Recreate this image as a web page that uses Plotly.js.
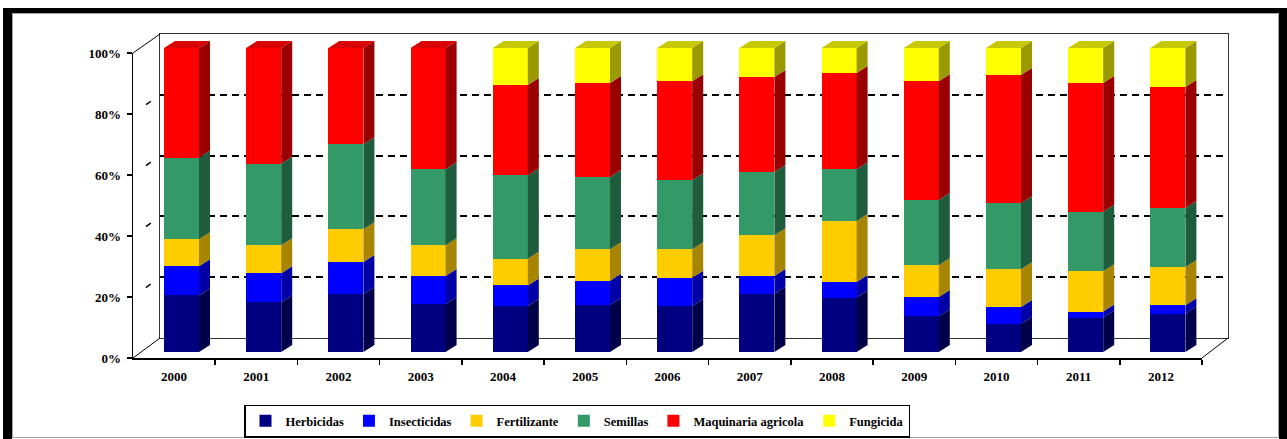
<!DOCTYPE html>
<html>
<head>
<meta charset="utf-8">
<script src="https://cdn.plot.ly/plotly-3.0.1.min.js"></script>
<style>
  html, body { margin: 0; padding: 0; background: #ffffff; }
  #chart { width: 1287px; height: 439px; }
</style>
</head>
<body>
<div id="chart"></div>
<script>
// ---------------- DATA ----------------
const categories = ['2000','2001','2002','2003','2004','2005','2006','2007','2008','2009','2010','2011','2012'];
const herbicidas   = [18.6, 16.4, 19.0, 15.7, 15.1, 15.5, 15.1, 19.2, 17.9, 11.8,  9.3, 11.3, 12.6];
const insecticidas = [ 9.6,  9.5, 10.6,  9.3,  6.8,  7.9,  9.3,  5.8,  5.1,  6.3,  5.5,  2.0,  2.8];
const fertilizante = [ 8.9,  9.2, 10.8, 10.1,  8.8, 10.4,  9.4, 13.4, 20.1, 10.4, 12.4, 13.3, 12.6];
const semillas     = [26.8, 26.8, 27.9, 25.0, 27.4, 23.8, 22.7, 20.8, 17.0, 21.5, 21.7, 19.5, 19.4];
const maquinaria   = [36.1, 38.1, 31.7, 39.9, 29.7, 30.9, 32.6, 31.3, 31.7, 39.1, 42.2, 42.4, 39.8];
const fungicida    = [ 0.0,  0.0,  0.0,  0.0, 12.2, 11.5, 10.9,  9.5,  8.2, 10.9,  8.9, 11.5, 12.8];
const seriesNames  = ['Herbicidas','Insecticidas','Fertilizante','Semillas','Maquinaria agricola','Fungicida'];
const yTickValues  = [0, 20, 40, 60, 80, 100];
const yTickLabels  = ['0%','20%','40%','60%','80%','100%'];

// ---------------- STYLE ----------------
const seriesData  = [herbicidas, insecticidas, fertilizante, semillas, maquinaria, fungicida];
const frontColors = ['#000080','#0000FF','#FFCC00','#339966','#FF0000','#FFFF00'];
const sideColors  = ['#00004A','#0000A6','#A88500','#1E5C3D','#9A0000','#9A9A00'];
const topColors   = ['#00006A','#0000D8','#D9AD00','#2A8056','#D80000','#C8C800'];

const W = 1287, H = 439;
const px = x => x / W;
const py = y => 1 - y / H;
// pixel geometry of the 3-D box
const FR  = {xl: 133, xr: 1202, y0: 358, y100: 53};   // front plane (axes)
const BK  = {xl: 160, xr: 1228, y0: 338, y100: 34};   // back wall
const BAR = {c0: 181.5, step: 82.2, y0: 352, y100: 48, w: 35, dx: 11, dy: 7};

const s2 = (BAR.y0 - BAR.y100) / 100;              // px per % for bars
const bw = BAR.w / BAR.step;                        // bar width in category units
const dxu = BAR.dx / BAR.step, dyu = BAR.dy / s2;   // depth offsets in data units
const x2lo = 138, x2hi = 1248, y2lo = 364, y2hi = 28;

const serif = 'Times New Roman, Liberation Serif, DejaVu Serif, serif';
const fontTicks = {family: serif, size: 13, color: '#000', weight: 'bold'};
const xIdx = categories.map((c, i) => i);

// ---------------- TRACES ----------------
const traces = [];
seriesData.forEach((vals, k) => {
  traces.push({
    type: 'bar', name: seriesNames[k], x: xIdx, y: vals,
    xaxis: 'x2', yaxis: 'y2', width: bw,
    marker: {color: frontColors[k], line: {width: 0}},
    hoverinfo: 'skip'
  });
});

// side faces (derived from the stacked values)
const cum = categories.map(() => 0);
const sideTraces = [];
seriesData.forEach((vals, k) => {
  const xs = [], ys = [];
  vals.forEach((v, i) => {
    if (v <= 0) return;
    const y0 = cum[i], y1 = cum[i] + v, xr = i + bw / 2;
    xs.push(xr, xr + dxu, xr + dxu, xr, xr, null);
    ys.push(y0, y0 + dyu, y1 + dyu, y1, y0, null);
    cum[i] = y1;
  });
  sideTraces.push({
    type: 'scatter', mode: 'lines', x: xs, y: ys, xaxis: 'x2', yaxis: 'y2',
    fill: 'toself', fillcolor: sideColors[k], line: {width: 0, color: sideColors[k]},
    showlegend: false, hoverinfo: 'skip'
  });
});

// top faces: for the topmost non-zero series of each category
const topTraces = [];
seriesData.forEach((vals, k) => {
  const xs = [], ys = [];
  categories.forEach((c, i) => {
    let top = -1;
    seriesData.forEach((sv, j) => { if (sv[i] > 0) top = j; });
    if (top !== k) return;
    let total = 0; seriesData.forEach(sv => total += sv[i]);
    const xl = i - bw / 2, xr = i + bw / 2;
    xs.push(xl, xl + dxu, xr + dxu, xr, xl, null);
    ys.push(total, total + dyu, total + dyu, total, total, null);
  });
  if (xs.length) topTraces.push({
    type: 'scatter', mode: 'lines', x: xs, y: ys, xaxis: 'x2', yaxis: 'y2',
    fill: 'toself', fillcolor: topColors[k], line: {width: 0, color: topColors[k]},
    showlegend: false, hoverinfo: 'skip'
  });
});

// invisible anchors so the back-wall subplot and the front-axes subplot exist
const wallTrace  = {type: 'scatter', x: [0], y: [0], xaxis: 'x',  yaxis: 'y',  mode: 'markers', marker: {opacity: 0}, showlegend: false, hoverinfo: 'skip'};
const frontTrace = {type: 'scatter', x: [0], y: [0], xaxis: 'x3', yaxis: 'y3', mode: 'markers', marker: {opacity: 0}, showlegend: false, hoverinfo: 'skip'};

const data = [wallTrace].concat(traces, sideTraces, topTraces, [frontTrace]);

// ---------------- SHAPES (frame & 3-D box edges) ----------------
const fy = v => FR.y0 - (FR.y0 - FR.y100) * v / 100;
const by = v => BK.y0 - (BK.y0 - BK.y100) * v / 100;
const line = (x0, y0, x1, y1, color, width, dash) => ({
  type: 'line', xref: 'paper', yref: 'paper',
  x0: px(x0), y0: py(y0), x1: px(x1), y1: py(y1),
  line: {color: color, width: width, dash: dash || 'solid'}, layer: 'above'
});
const rect = (x0, y0, x1, y1, fill) => ({
  type: 'rect', xref: 'paper', yref: 'paper',
  x0: px(x0), y0: py(y0), x1: px(x1), y1: py(y1),
  fillcolor: fill, line: {width: 0}, layer: 'above'
});
const shapes = [
  // outer frame
  rect(3, 8, 12, 445, '#000'),
  rect(3, 8, 1287, 13, '#000'),
  rect(1279, 8, 1287, 445, '#000'),
  {type: 'rect', xref: 'paper', yref: 'paper', x0: px(12.5), y0: py(437.5), x1: px(1278.5), y1: py(13.5),
   line: {color: '#a0a0a0', width: 1}, fillcolor: 'rgba(0,0,0,0)', layer: 'above'},
  // box diagonals
  line(FR.xl, fy(100), BK.xl, by(100), '#000', 1),
  line(FR.xl, fy(0), BK.xl, by(0), '#000', 1),
  line(FR.xr, fy(0), BK.xr, by(0), '#000', 1)
];
// left-wall grid dashes
yTickValues.slice(1, -1).forEach(v => {
  shapes.push(line(FR.xl, fy(v), BK.xl, by(v), '#000', 1.5, '0px,16px,6px,40px'));
});

// ---------------- LAYOUT ----------------
const layout = {
  width: W, height: H,
  margin: {l: 0, r: 0, t: 0, b: 0, pad: 0},
  paper_bgcolor: '#ffffff', plot_bgcolor: 'rgba(0,0,0,0)',
  barmode: 'stack', bargap: 0,
  showlegend: true,
  legend: {
    orientation: 'h', x: px(244), y: py(404.5), xanchor: 'left', yanchor: 'top',
    bordercolor: '#000', borderwidth: 1.5, bgcolor: '#fff', traceorder: 'normal',
    itemwidth: 30, font: {family: serif, size: 12.5, color: '#000', weight: 'bold'}
  },
  // back wall
  xaxis: {domain: [px(BK.xl), px(BK.xr)], range: [0, 1], anchor: 'y', showgrid: false, zeroline: false,
          showticklabels: false, ticks: '', showline: true, mirror: true, linecolor: '#333', linewidth: 1,
          automargin: false, fixedrange: true},
  yaxis: {domain: [py(BK.y0), py(BK.y100)], range: [0, 100], anchor: 'x', zeroline: false,
          showgrid: true, gridcolor: '#000', gridwidth: 2, griddash: '7px,5px',
          tickmode: 'array', tickvals: yTickValues.slice(1, -1), showticklabels: false, ticks: '',
          showline: true, mirror: true, linecolor: '#333', linewidth: 1, automargin: false, fixedrange: true},
  // bars
  xaxis2: {domain: [px(x2lo), px(x2hi)],
           range: [(x2lo - BAR.c0) / BAR.step, (x2hi - BAR.c0) / BAR.step],
           anchor: 'y2', visible: false, automargin: false, fixedrange: true},
  yaxis2: {domain: [py(y2lo), py(y2hi)],
           range: [-(y2lo - BAR.y0) / s2, 100 + (BAR.y100 - y2hi) / s2],
           anchor: 'x2', visible: false, automargin: false, fixedrange: true},
  // front axes
  xaxis3: {domain: [px(FR.xl), px(FR.xr)], range: [-0.5, categories.length - 0.5], anchor: 'y3',
           tickmode: 'array', tickvals: xIdx, ticktext: categories, ticks: '',
           minor: {tickmode: 'array', tickvals: xIdx.map(i => i + 0.5), ticks: 'outside', ticklen: 5, tickcolor: '#000', tickwidth: 1.5},
           ticklabelstandoff: 6,
           showline: true, linecolor: '#000', linewidth: 1.5, showgrid: false, zeroline: false,
           tickfont: fontTicks, automargin: false, fixedrange: true},
  yaxis3: {domain: [py(FR.y0), py(FR.y100)], range: [0, 100], anchor: 'x3',
           tickmode: 'array', tickvals: yTickValues, ticktext: yTickLabels,
           ticks: 'outside', ticklen: 5, tickwidth: 1.5, tickcolor: '#000', ticklabelstandoff: 3,
           showline: true, linecolor: '#000', linewidth: 1.5, showgrid: false, zeroline: false,
           tickfont: fontTicks, automargin: false, fixedrange: true},
  shapes: shapes
};

Plotly.newPlot('chart', data, layout, {displayModeBar: false, staticPlot: true});
</script>
</body>
</html>
